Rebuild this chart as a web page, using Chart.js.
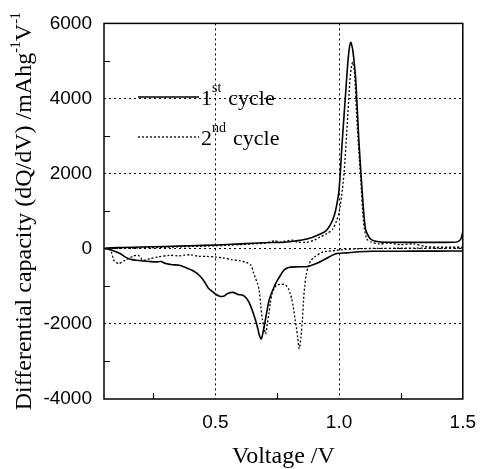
<!DOCTYPE html>
<html>
<head>
<meta charset="utf-8">
<script src="https://cdn.jsdelivr.net/npm/chart.js@4/dist/chart.umd.min.js"></script>
<style>
  html, body { margin: 0; padding: 0; background: #fff; }
</style>
</head>
<body>
<canvas id="dqdvChart" width="488" height="469"></canvas>
<script>
// 1st cycle: discharge 1.5 V -> 0.05 V, then charge back to 1.5 V
var cycle1Voltage = [1.50, 1.40, 1.30, 1.20, 1.135, 1.08, 1.03, 0.987, 0.947, 0.908, 0.875, 0.84, 0.80, 0.778, 0.764, 0.75, 0.738, 0.718, 0.705, 0.695,
  0.686, 0.679, 0.672, 0.665, 0.657, 0.647, 0.637, 0.625, 0.611, 0.591, 0.571, 0.55, 0.532, 0.515, 0.50, 0.485, 0.472, 0.46, 0.446, 0.425,
  0.406, 0.38, 0.354, 0.325, 0.30, 0.28, 0.261, 0.235, 0.208, 0.18, 0.156, 0.135, 0.116, 0.09, 0.07, 0.055,
  0.10, 0.20, 0.30, 0.40, 0.50, 0.60, 0.70, 0.78, 0.83, 0.87, 0.908, 0.947, 0.965, 0.98, 0.99, 1.00, 1.013, 1.027, 1.038, 1.047,
  1.055, 1.066, 1.073, 1.08, 1.093, 1.107, 1.127, 1.16, 1.20, 1.30, 1.40, 1.46, 1.48, 1.492, 1.50];
var cycle1Capacity = [-60, -62, -64, -65, -66, -80, -110, -133, -264, -395, -470, -480, -490, -560, -700, -850, -1005, -1353, -1790, -2150,
  -2400, -2330, -2140, -1960, -1790, -1600, -1440, -1310, -1235, -1215, -1162, -1190, -1267, -1255, -1205, -1120, -1050, -920, -787, -650,
  -570, -500, -437, -425, -395, -340, -350, -340, -325, -305, -280, -215, -133, -60, -15, 10,
  30, 45, 60, 80, 100, 130, 160, 175, 215, 260, 348, 479, 640, 872, 1150, 1568, 2877, 4186, 5150, 5495,
  5300, 4623, 3800, 2877, 1568, 521, 260, 185, 173, 170, 170, 172, 190, 260, 450];

// 2nd cycle
var cycle2Voltage = [1.50, 1.30, 1.10, 1.00, 0.987, 0.95, 0.933, 0.90, 0.885, 0.875, 0.867, 0.861, 0.856, 0.852, 0.846, 0.839, 0.833, 0.828, 0.822, 0.815,
  0.808, 0.802, 0.795, 0.783, 0.765, 0.75, 0.74, 0.73, 0.722, 0.717, 0.71, 0.703, 0.697, 0.69, 0.683, 0.677, 0.67, 0.662, 0.655, 0.644,
  0.624, 0.60, 0.565, 0.53, 0.50, 0.466, 0.433, 0.40, 0.375, 0.354, 0.314, 0.268, 0.235, 0.208, 0.189, 0.169, 0.136, 0.109, 0.09, 0.077, 0.055,
  0.10, 0.20, 0.30, 0.40, 0.50, 0.60, 0.65, 0.70, 0.74, 0.76, 0.81, 0.83, 0.868, 0.90, 0.921, 0.95, 0.974, 0.99, 1.00, 1.01,
  1.02, 1.033, 1.043, 1.049, 1.055, 1.062, 1.073, 1.086, 1.099, 1.112, 1.13, 1.16, 1.20, 1.25, 1.30, 1.35, 1.40, 1.50];
var cycle2Capacity = [20, 15, 5, -30, -45, -70, -89, -220, -330, -482, -700, -1005, -1400, -1877, -2350, -2662, -2380, -2120, -1877, -1550,
  -1320, -1180, -1060, -960, -945, -960, -1030, -1180, -1450, -1704, -2000, -2270, -2100, -1877, -1480, -1100, -920, -780, -650, -437,
  -360, -320, -290, -240, -220, -205, -200, -160, -170, -190, -175, -220, -264, -307, -175, -194, -307, -395, -307, -45, 0,
  10, 25, 40, 60, 80, 110, 130, 150, 210, 180, 230, 180, 173, 230, 304, 400, 521, 750, 958, 1400,
  2005, 3314, 4400, 4800, 4970, 4700, 3314, 2005, 696, 260, 180, 130, 150, 110, 130, 60, 45, 40];

var legendNumbers = ["1", "2"];
var legendSuffixes = ["st", "nd"];
var legendWord = "cycle";

var xTickValues = [0.5, 1.0, 1.5];
var xMinorTicks = [0.25, 0.75, 1.25];
var yTickValues = [-4000, -2000, 0, 2000, 4000, 6000];
var yMinorTicks = [-3000, -1000, 1000, 3000, 5000];

function toPoints(xs, ys) {
  return xs.map(function (x, i) { return { x: x, y: ys[i] }; });
}

var serif = "'Liberation Serif', 'Times New Roman', serif";
var sans = "'Liberation Sans', Arial, sans-serif";

// box, inward minor ticks, y title with superscripts, legend
var decorations = {
  id: 'decorations',
  afterDraw: function (chart) {
    var ctx = chart.ctx;
    var area = chart.chartArea;
    var xs = chart.scales.x, ys = chart.scales.y;
    ctx.save();
    ctx.strokeStyle = '#000';
    ctx.lineWidth = 1.5;
    ctx.strokeRect(area.left, area.top, area.right - area.left, area.bottom - area.top);

    ctx.lineWidth = 1.2;
    ctx.beginPath();
    xMinorTicks.forEach(function (v) {
      var px = Math.round(xs.getPixelForValue(v)) + 0.5;
      ctx.moveTo(px, area.bottom);
      ctx.lineTo(px, area.bottom - 6);
    });
    yMinorTicks.forEach(function (v) {
      var py = Math.round(ys.getPixelForValue(v)) + 0.5;
      ctx.moveTo(area.left, py);
      ctx.lineTo(area.left + 6, py);
    });
    ctx.stroke();

    // y axis title
    var parts = [
      { t: 'Differential capacity (dQ/dV) /mAhg', sup: false },
      { t: '-1', sup: true },
      { t: 'V', sup: false },
      { t: '-1', sup: true }
    ];
    var mainFont = '24px ' + serif, supFont = '14px ' + serif;
    var total = 0;
    parts.forEach(function (p) {
      ctx.font = p.sup ? supFont : mainFont;
      p.w = ctx.measureText(p.t).width;
      total += p.w;
    });
    ctx.save();
    ctx.translate(31, (area.top + area.bottom) / 2);
    ctx.rotate(-Math.PI / 2);
    ctx.fillStyle = '#000';
    ctx.textBaseline = 'alphabetic';
    var cx = -total / 2;
    parts.forEach(function (p) {
      ctx.font = p.sup ? supFont : mainFont;
      ctx.fillText(p.t, cx, p.sup ? -11 : 0);
      cx += p.w;
    });
    ctx.restore();

    // legend
    chart.data.datasets.forEach(function (ds, i) {
      var ly = 97 + i * 40;
      ctx.save();
      ctx.strokeStyle = '#000';
      ctx.lineWidth = ds.borderWidth;
      ctx.setLineDash(ds.borderDash || []);
      ctx.beginPath();
      ctx.moveTo(138, ly);
      ctx.lineTo(199, ly);
      ctx.stroke();
      ctx.restore();
      ctx.fillStyle = '#000';
      ctx.textBaseline = 'alphabetic';
      var tx = 201;
      ctx.font = '22px ' + serif;
      ctx.fillText(legendNumbers[i], tx, ly + 8);
      tx += ctx.measureText(legendNumbers[i]).width;
      ctx.font = '14px ' + serif;
      ctx.fillText(legendSuffixes[i], tx, ly - 5);
      tx += ctx.measureText(legendSuffixes[i]).width + 7;
      ctx.font = '22px ' + serif;
      ctx.fillText(legendWord, tx, ly + 8);
    });
    ctx.restore();
  }
};

var ctx = document.getElementById('dqdvChart').getContext('2d');
new Chart(ctx, {
  type: 'scatter',
  data: {
    datasets: [
      {
        label: '1st cycle',
        data: toPoints(cycle1Voltage, cycle1Capacity),
        showLine: true,
        borderColor: '#000',
        borderWidth: 1.6,
        borderDash: [],
        pointRadius: 0,
        tension: 0.25
      },
      {
        label: '2nd cycle',
        data: toPoints(cycle2Voltage, cycle2Capacity),
        showLine: true,
        borderColor: '#000',
        borderWidth: 1.3,
        borderDash: [2, 2],
        pointRadius: 0,
        tension: 0.25
      }
    ]
  },
  options: {
    responsive: false,
    animation: false,
    devicePixelRatio: 1,
    layout: { padding: { top: 17, right: 16, left: 0, bottom: 0 } },
    plugins: { legend: { display: false }, tooltip: { enabled: false } },
    scales: {
      x: {
        type: 'linear',
        min: 0.05,
        max: 1.5,
        afterBuildTicks: function (s) { s.ticks = xTickValues.map(function (v) { return { value: v }; }); },
        afterFit: function (s) { s.height = 70; },
        ticks: {
          color: '#000',
          font: { family: sans, size: 19 },
          padding: 12,
          maxRotation: 0,
          autoSkip: false,
          callback: function (v) { return Number(v).toFixed(1); }
        },
        grid: {
          drawTicks: false,
          lineWidth: 1,
          color: function (c) { return c.tick && c.tick.value < 1.5 ? '#000' : 'rgba(0,0,0,0)'; }
        },
        border: { display: false, dash: [2, 3] },
        title: {
          display: true,
          text: 'Voltage /V',
          color: '#000',
          font: { family: serif, size: 24, lineHeight: 1 },
          padding: { top: 0, bottom: 0 }
        }
      },
      y: {
        min: -4000,
        max: 6000,
        afterBuildTicks: function (s) { s.ticks = yTickValues.map(function (v) { return { value: v }; }); },
        afterFit: function (s) { s.width = 104; },
        ticks: {
          color: '#000',
          font: { family: sans, size: 19 },
          padding: 12,
          callback: function (v) { return String(v); }
        },
        grid: {
          drawTicks: false,
          lineWidth: 1,
          color: function (c) {
            return c.tick && c.tick.value > -4000 && c.tick.value < 6000 ? '#000' : 'rgba(0,0,0,0)';
          }
        },
        border: { display: false, dash: [2, 3] }
      }
    }
  },
  plugins: [decorations]
});
</script>
</body>
</html>
